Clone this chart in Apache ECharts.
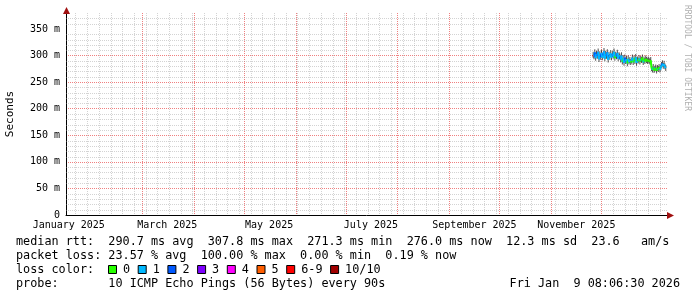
<!DOCTYPE html>
<html><head><meta charset="utf-8">
<script src="https://cdn.jsdelivr.net/npm/echarts@6/dist/echarts.min.js"></script>
<style>html,body{margin:0;padding:0;background:#fff}#c{width:697px;height:297px}</style>
</head><body><div id="c"></div>
<script>
// all day values are days since 2025-01-01 00:00
const viewStartDay = 13.34;   // 2025-01-14 08:06
const viewEndDay = 373.34;    // 2026-01-09 08:06
const monthStartDays = [31, 59, 90, 120, 151, 181, 212, 243, 273, 304, 334, 365];
const firstMondayDay = 5;     // 2025-01-06
const monthLabelDays = [15, 74, 135, 196, 258, 319];
const monthLabels = ['January 2025', 'March 2025', 'May 2025', 'July 2025', 'September 2025', 'November 2025'];
const yMax = 380;
const yTicks = [0, 50, 100, 150, 200, 250, 300, 350];
const yTickLabels = ['0', '50 m', '100 m', '150 m', '200 m', '250 m', '300 m', '350 m'];
const yMinorStep = 10;

const sampleStartDay = 329.1;
const sampleStepDays = 0.5;
const medianRtt = [
  301, 298, 306, 295, 303, 299, 307, 293, 302, 297, 305, 296, 300, 307.8, 294, 303,
  299, 306, 292, 301, 297, 304, 296, 303, 299, 307, 295, 301, 298, 305, 294, 300,
  298, 292, 300, 288, 295, 286, 296, 289, 293, 285, 294, 288, 291, 287,
  290, 296, 287, 294, 289, 297, 286, 292, 290, 295, 288, 293, 291, 296, 287, 292, 289, 294,
  291, 289, 292, 290, 288, 291,
  276, 273, 278, 272, 275, 277, 271.3, 276, 274, 278, 273, 277,
  282, 285, 280, 284,
  279, 276
];
const lossIndex = [
  6, 6, 1, 2, 1, 1, 2, 1, 1, 1, 2, 1, 1, 2, 1, 1, 1, 2, 1, 1, 2, 1, 1, 1, 2, 1, 1, 0, 1, 2, 1, 1,
  1, 2, 1, 1, 0, 1, 1, 2, 1, 1, 0, 1, 1, 1,
  0, 1, 1, 0, 1, 0, 1, 1, 0, 0, 1, 0, 1, 0, 0, 1, 0, 0,
  0, 0, 0, 0, 0, 0,
  0, 0, 1, 0, 0, 1, 0, 0, 1, 0, 0, 1,
  1, 2, 1, 1,
  1, 1
];
const smokeLow = [
  296, 293, 300, 290, 298, 294, 301, 288, 297, 292, 299, 291, 295, 302, 289, 297,
  294, 300, 287, 296, 292, 298, 291, 297, 294, 301, 290, 296, 293, 299, 289, 295,
  293, 287, 295, 283, 290, 281, 291, 284, 288, 280, 289, 283, 286, 282,
  285, 291, 282, 289, 284, 292, 281, 287, 285, 290, 283, 288, 286, 291, 282, 287, 284, 289,
  286, 284, 287, 285, 283, 286,
  271, 268, 273, 267, 270, 272, 266, 271, 269, 273, 268, 272,
  277, 280, 275, 279,
  274, 271
];
const smokeHigh = [
  307, 304, 312, 301, 309, 305, 313, 299, 308, 303, 311, 302, 306, 314, 300, 309,
  305, 312, 298, 307, 303, 310, 302, 309, 305, 313, 301, 307, 304, 311, 300, 306,
  304, 298, 306, 294, 301, 292, 302, 295, 299, 291, 300, 294, 297, 293,
  296, 302, 293, 300, 295, 303, 292, 298, 296, 301, 294, 299, 297, 302, 293, 298, 295, 300,
  297, 295, 298, 296, 294, 297,
  282, 279, 284, 278, 281, 283, 277, 282, 280, 284, 279, 283,
  288, 291, 286, 290,
  285, 282
];
const lossLabels = ['0', '1', '2', '3', '4', '5', '6-9', '10/10'];
const lossColors = ['#26ff00', '#00b8ff', '#0059ff', '#7e00ff', '#ff00ff', '#ff5e00', '#ff0000', '#a10000'];
const statLine1 = 'median rtt:  290.7 ms avg  307.8 ms max  271.3 ms min  276.0 ms now  12.3 ms sd  23.6   am/s';
const statLine2 = 'packet loss: 23.57 % avg  100.00 % max  0.00 % min  0.19 % now';
const statLine3 = 'loss color:';
const statLine4 = 'probe:       10 ICMP Echo Pings (56 Bytes) every 90s';
const dateText = 'Fri Jan  9 08:06:30 2026';
const creditText = 'RRDTOOL / TOBI OETIKER';

// ---- derived tables ----
const sampleDays = medianRtt.map((_, i) => sampleStartDay + i * sampleStepDays);
const smokeData = medianRtt.map((_, i) => [sampleDays[i], smokeLow[i], smokeHigh[i]]);
const medianSegs = medianRtt.map((v, i) => {
  const p = i > 0 ? i - 1 : 0;
  return [sampleDays[p], medianRtt[p], sampleDays[i], v, lossIndex[i]];
});
const mondays = [];
for (let d = firstMondayDay; d < viewEndDay; d += 7) if (d > viewStartDay) mondays.push(d);
const vMinor = mondays.filter(d => monthStartDays.indexOf(d) < 0).map(d => [d, 0]);
const hMinor = [];
for (let v = yMinorStep; v < yMax; v += yMinorStep) {
  if (yTicks.indexOf(v) < 0) hMinor.push([viewStartDay, v]);
}
const visibleMonthStarts = monthStartDays.filter(d => d > viewStartDay && d < viewEndDay);

const FONT = '"DejaVu Sans Mono", monospace';
const MINOR = 'rgba(150,150,150,0.42)';
const MAJOR = '#f08080';

function gridLineSeries(data, color, z, vertical) {
  return {
    type: 'custom', data, z, silent: true, clip: false,
    renderItem(params, api) {
      const cs = params.coordSys;
      let shape;
      if (vertical) {
        const x = Math.round(api.coord([api.value(0), 0])[0]) + 0.5;
        shape = { x1: x, y1: cs.y, x2: x, y2: cs.y + cs.height };
      } else {
        const y = Math.round(api.coord([viewStartDay, api.value(1)])[1]) + 0.5;
        shape = { x1: cs.x, y1: y, x2: cs.x + cs.width, y2: y };
      }
      return { type: 'line', shape, style: { stroke: color, fill: null, lineWidth: 1, lineDash: [1, 1] } };
    }
  };
}

const graphics = [];
// axis arrows
graphics.push({ type: 'polygon', shape: { points: [[66.5, 7], [63, 14], [70, 14]] }, style: { fill: '#a01010' }, z: 100 });
graphics.push({ type: 'polygon', shape: { points: [[674, 215.5], [667, 212], [667, 219]] }, style: { fill: '#a01010' }, z: 100 });
graphics.push({ type: 'text', x: 687, y: 5, rotation: -Math.PI / 2,
  style: { text: creditText, font: '8px ' + FONT, fill: '#b0b0b0', align: 'left', verticalAlign: 'middle', textAlign: 'left', textVerticalAlign: 'middle' } });
const rowY = [241.5, 255.5, 269.5, 283.5];
[statLine1, statLine2, statLine3, statLine4].forEach((t, i) => {
  graphics.push({ type: 'text', x: 16, y: rowY[i],
    style: { text: t, font: '11.8px ' + FONT, fill: '#000', align: 'left', verticalAlign: 'middle', textAlign: 'left', textVerticalAlign: 'middle' } });
});
graphics.push({ type: 'text', x: 680, y: rowY[3],
  style: { text: dateText, font: '11.8px ' + FONT, fill: '#000', align: 'right', verticalAlign: 'middle', textAlign: 'right', textVerticalAlign: 'middle' } });
let bx = 108.5;
lossLabels.forEach((lab, i) => {
  graphics.push({ type: 'rect', shape: { x: bx, y: 265.5, width: 8, height: 8 }, style: { fill: lossColors[i], stroke: '#000', lineWidth: 1 } });
  graphics.push({ type: 'text', x: bx + 14.5, y: rowY[2],
    style: { text: lab, font: '11.8px ' + FONT, fill: '#000', align: 'left', verticalAlign: 'middle', textAlign: 'left', textVerticalAlign: 'middle' } });
  bx += 22.6 + lab.length * 7.1;
});

const chart = echarts.init(document.getElementById('c'), null, { renderer: 'canvas' });
chart.setOption({
  animation: false,
  backgroundColor: '#ffffff',
  grid: { left: 66, top: 13, width: 601, height: 202, containLabel: false, outerBoundsMode: 'none' },
  xAxis: {
    type: 'value', min: viewStartDay, max: viewEndDay,
    axisLine: { show: true, lineStyle: { color: '#000', width: 1 } },
    axisTick: { show: false, customValues: visibleMonthStarts },
    splitLine: { show: true, showMinLine: false, showMaxLine: false, lineStyle: { color: MAJOR, width: 1, type: [1, 1] } },
    axisLabel: {
      customValues: monthLabelDays, margin: 5,
      fontFamily: '"DejaVu Sans Mono", monospace', fontSize: 10, color: '#000',
      formatter: v => monthLabels[monthLabelDays.indexOf(v)] || ''
    }
  },
  yAxis: {
    type: 'value', min: 0, max: yMax,
    name: 'Seconds', nameLocation: 'middle', nameRotate: 90, nameGap: 50,
    nameTextStyle: { fontFamily: '"DejaVu Sans Mono", monospace', fontSize: 11, color: '#000' },
    axisLine: { show: true, lineStyle: { color: '#000', width: 1 } },
    axisTick: { show: false, customValues: yTicks },
    splitLine: { show: true, showMinLine: false, showMaxLine: false, lineStyle: { color: MAJOR, width: 1, type: [1, 1] } },
    axisLabel: {
      customValues: yTicks, margin: 6,
      fontFamily: '"DejaVu Sans Mono", monospace', fontSize: 10, color: '#000',
      formatter: v => yTickLabels[yTicks.indexOf(v)] || ''
    }
  },
  graphic: graphics,
  series: [
    gridLineSeries(vMinor, MINOR, 1, true),
    gridLineSeries(hMinor, MINOR, 1, false),
    {
      type: 'custom', z: 3, data: smokeData, encode: { x: 0, y: [1, 2] },
      renderItem(params, api) {
        const lo = api.coord([api.value(0), api.value(1)]);
        const hi = api.coord([api.value(0), api.value(2)]);
        const w = Math.max(1, api.size([sampleStepDays, 0])[0]);
        return { type: 'rect', shape: { x: lo[0] - w / 2, y: hi[1], width: w, height: lo[1] - hi[1] },
          style: { fill: 'rgba(10,10,10,0.7)' } };
      }
    },
    {
      type: 'custom', z: 4, data: medianSegs, encode: { x: [0, 2], y: [1, 3] },
      renderItem(params, api) {
        const a = api.coord([api.value(0), api.value(1)]);
        const b = api.coord([api.value(2), api.value(3)]);
        return { type: 'line', shape: { x1: a[0], y1: a[1], x2: b[0], y2: b[1] },
          style: { stroke: lossColors[api.value(4)], lineWidth: 2 } };
      }
    }
  ]
});
</script>
</body></html>
